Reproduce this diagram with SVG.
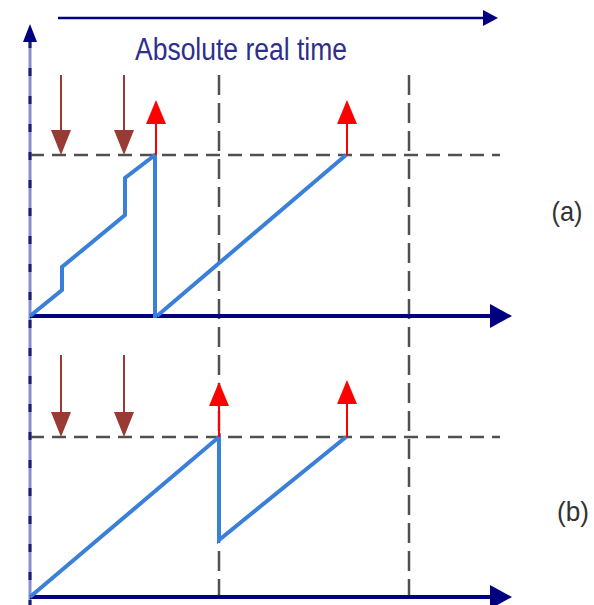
<svg xmlns="http://www.w3.org/2000/svg" width="594" height="605" viewBox="0 0 594 605">
  <style>
    .grid{stroke:#505050;stroke-width:2.5;fill:none}
    .h{stroke-dasharray:14 8}
    .v{stroke-dasharray:20 8}
    .axis{stroke:#000080;stroke-width:4;fill:none}
    .saw{stroke:#3a80d8;stroke-width:4;fill:none;stroke-linejoin:miter}
    .in{stroke:#9a3a34;stroke-width:2;fill:none}
    .out{stroke:#ff0000;stroke-width:2;fill:none}
    .lbl{font-family:"Liberation Sans",Arial,sans-serif;font-size:28px;fill:#333333}
  </style>
  <rect width="594" height="605" fill="#ffffff"/>
  <g id="grid">
    <line class="grid v" x1="219" y1="75" x2="219" y2="605"/>
    <line class="grid v" x1="409" y1="75" x2="409" y2="605"/>
    <line class="grid h" x1="30" y1="155" x2="500" y2="155"/>
    <line class="grid h" x1="30" y1="437" x2="500" y2="437"/>
  </g>
  <g id="time-axis">
    <line x1="58" y1="18" x2="484" y2="18" stroke="#000080" stroke-width="2.5"/>
    <polygon points="483,10 498,18 483,26" fill="#000080"/>
    <text x="241" y="60" text-anchor="middle" font-family="Liberation Sans,Arial,sans-serif" font-size="31" fill="#2e2e8c" textLength="212" lengthAdjust="spacingAndGlyphs">Absolute real time</text>
  </g>
  <g id="y-axis">
    <line x1="30" y1="40" x2="30" y2="605" stroke="#8c8cd0" stroke-width="3"/>
    <line x1="30" y1="40" x2="30" y2="605" stroke="#1c1c6c" stroke-width="3" stroke-dasharray="8 20"/>
    <polygon points="30,24 23,42 37,42" fill="#000080"/>
  </g>
  <g id="panel-a">
    <line class="axis" x1="30" y1="316" x2="494" y2="316"/>
    <polygon points="490,304 512,316 490,328" fill="#000080"/>
    <polyline class="saw" points="30,316 62,290 62,267 125,215 125,178 155,155 155,318"/>
    <line class="saw" x1="157" y1="316" x2="346" y2="155"/>
    <line class="in" x1="61" y1="75" x2="61" y2="132"/>
    <polygon points="51,130 71,130 61,155" fill="#9a3a34"/>
    <line class="in" x1="124" y1="75" x2="124" y2="132"/>
    <polygon points="114,130 134,130 124,155" fill="#9a3a34"/>
    <line class="out" x1="156" y1="155" x2="156" y2="120"/>
    <polygon points="146,124 166,124 156,100" fill="#ff0000"/>
    <line class="out" x1="347" y1="155" x2="347" y2="120"/>
    <polygon points="337,124 357,124 347,100" fill="#ff0000"/>
    <text class="lbl" x="567" y="221" text-anchor="middle" textLength="31" lengthAdjust="spacingAndGlyphs">(a)</text>
  </g>
  <g id="panel-b">
    <line class="axis" x1="30" y1="597" x2="494" y2="597"/>
    <polygon points="490,585 512,597 490,609" fill="#000080"/>
    <polyline class="saw" points="30,597 219,437 219,540 346,437"/>
    <line class="in" x1="61" y1="355" x2="61" y2="414"/>
    <polygon points="51,412 71,412 61,437" fill="#9a3a34"/>
    <line class="in" x1="124" y1="355" x2="124" y2="414"/>
    <polygon points="114,412 134,412 124,437" fill="#9a3a34"/>
    <line class="out" x1="219" y1="437" x2="219" y2="402"/>
    <polygon points="209,406 229,406 219,382" fill="#ff0000"/>
    <line class="out" x1="347" y1="437" x2="347" y2="400"/>
    <polygon points="337,404 357,404 347,380" fill="#ff0000"/>
    <text class="lbl" x="573" y="521" text-anchor="middle" textLength="32" lengthAdjust="spacingAndGlyphs">(b)</text>
  </g>
</svg>
